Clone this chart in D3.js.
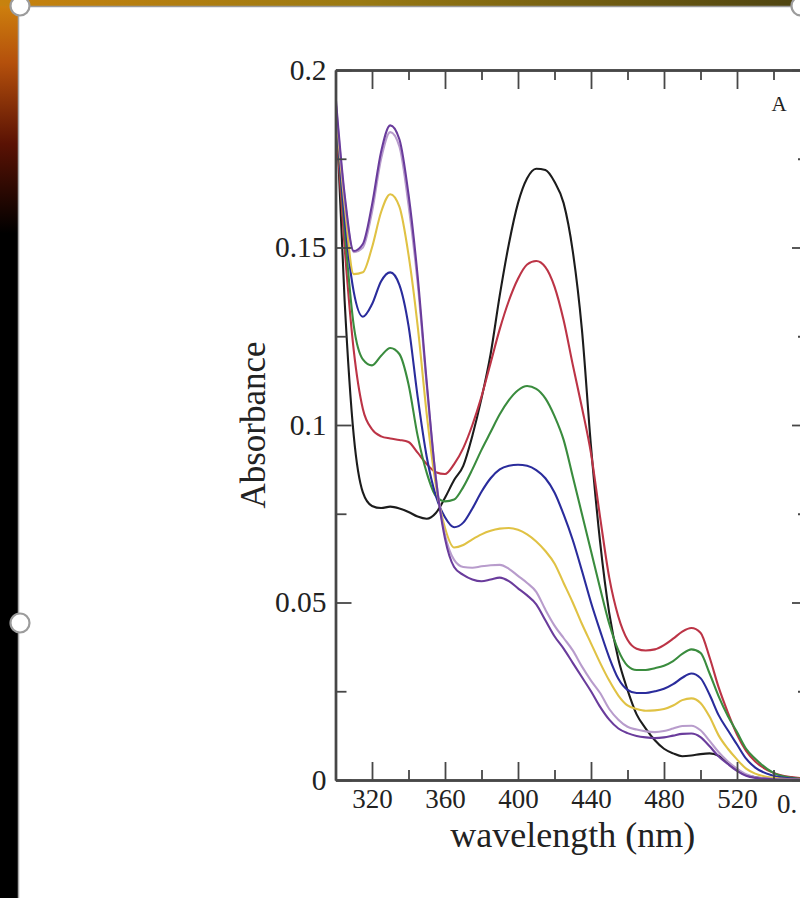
<!DOCTYPE html>
<html>
<head>
<meta charset="utf-8">
<script src="https://cdn.jsdelivr.net/npm/d3@7"></script>
<style>
  html, body { margin: 0; padding: 0; background: #ffffff; overflow: hidden; }
  svg { display: block; }
</style>
</head>
<body>
<svg id="chart" width="800" height="898"></svg>
<script>
// Wavelength grid (nm) shared by all spectra
const wavelengths = [300,305,310,315,320,325,330,335,340,345,350,355,360,365,370,375,380,385,390,395,
  400,405,410,415,420,425,430,435,440,445,450,455,460,465,470,475,480,485,490,495,
  500,505,510,515,520,525,530,540,550,560];

// Absorbance of each spectrum on that grid
const absBlack = [.193,.135,.097,.081,.0772,.0766,.0770,.0765,.0755,.0742,.0736,.0752,.0795,.0845,.0885,.097,.1075,.120,.1365,.151,
  .1625,.1695,.1722,.1718,.1685,.1625,.149,.127,.094,.067,.047,.034,.0254,.0185,.0145,.0112,.0088,.0075,.0067,.0069,
  .0073,.0075,.0068,.0048,.0028,.0014,.0008,.0003,.0001,0];
const absRed = [.187,.150,.121,.1045,.0988,.0968,.0962,.0958,.0952,.0922,.0890,.0867,.0862,.0890,.0935,.100,.108,.1175,.127,.135,
  .1412,.1452,.1462,.1445,.1390,.1295,.1170,.1050,.0920,.0740,.0570,.0460,.0395,.0370,.0365,.0368,.0380,.0398,.0418,.0428,
  .0415,.0345,.0260,.0190,.0128,.0082,.0052,.0020,.0008,.0003];
const absGreen = [.189,.155,.128,.1185,.1168,.1195,.1217,.1200,.1115,.0970,.0865,.0800,.0785,.0790,.0825,.0875,.0930,.0980,.1030,.1070,
  .1098,.1110,.1102,.1075,.1025,.0958,.0855,.0750,.0645,.0540,.0440,.0365,.0322,.0310,.0310,.0315,.0322,.0335,.0355,.0368,
  .0358,.0300,.0235,.0180,.0135,.0088,.0060,.0020,.0006,.0002];
const absBlue = [.190,.158,.1375,.1305,.1340,.1405,.1430,.1395,.1280,.1080,.0910,.0800,.0740,.0712,.0725,.0765,.0812,.0850,.0875,.0885,
  .0888,.0885,.0873,.0850,.0810,.0748,.0676,.0590,.0500,.0420,.0345,.0285,.0254,.0245,.0245,.0250,.0257,.0270,.0288,.0300,
  .0287,.0240,.0182,.0140,.0100,.0060,.0035,.0012,.0004,.0001];
const absYellow = [.190,.162,.1425,.1430,.1500,.1600,.1650,.1615,.1480,.1280,.1030,.0830,.0710,.0655,.0662,.0678,.0692,.0702,.0708,.0710,
  .0705,.0692,.0672,.0645,.0610,.0555,.0500,.0440,.0385,.0330,.0280,.0238,.0210,.0200,.0195,.0196,.0200,.0210,.0225,.0230,
  .0217,.0178,.0125,.0088,.0058,.0032,.0018,.0006,.0002,0];
const absLavender = [.192,.164,.1487,.1500,.1600,.1750,.1825,.1785,.1620,.1400,.1110,.0850,.0690,.0620,.0600,.0598,.0602,.0605,.0606,.0595,
  .0575,.0555,.0530,.0480,.0435,.0400,.0365,.0320,.0280,.0245,.0200,.0170,.0150,.0142,.0137,.0135,.0138,.0145,.0152,.0153,
  .0140,.0110,.0078,.0052,.0032,.0016,.0008,.0003,.0001,0];
const absPurple = [.193,.165,.1490,.1510,.1620,.1770,.1844,.1805,.1650,.1420,.1120,.0850,.0680,.0600,.0578,.0565,.0560,.0565,.0570,.0560,
  .0540,.0520,.0495,.0450,.0405,.0370,.0330,.0290,.0250,.0206,.0170,.0145,.0132,.0124,.0120,.0118,.0120,.0125,.0130,.0131,
  .0121,.0095,.0066,.0045,.0026,.0012,.0006,.0002,.0001,0];

const seriesColors = ["#1c1c1c", "#bc3446", "#3a8c3e", "#2a2c9c", "#e0c244", "#b89ccc", "#6a3c9c"];
const seriesValues = [absBlack, absRed, absGreen, absBlue, absYellow, absLavender, absPurple];

// Axis ticks and labels
const xMajorTicks = [320, 360, 400, 440, 480, 520];
const xMinorTicks = [340, 380, 420, 460, 500, 540];
const yMajorTicks = [0, 0.05, 0.1, 0.15, 0.2];
const yTickLabels = ["0", "0.05", "0.1", "0.15", "0.2"];
const yMinorTicks = [0.025, 0.075, 0.125, 0.175];
const xTitle = "wavelength (nm)";
const yTitle = "Absorbance";
const panelLabel = "A";
const nextPanelLabel = "0.";

const svg = d3.select("#chart");
const W = 800, H = 898;
const serif = "'Liberation Serif', 'Times New Roman', serif";

// ---- slide frame around the figure ----
const defs = svg.append("defs");
const topGrad = defs.append("linearGradient").attr("id", "topStrip").attr("x1", 0).attr("x2", 1).attr("y1", 0).attr("y2", 0);
topGrad.append("stop").attr("offset", "0%").attr("stop-color", "#c8820e");
topGrad.append("stop").attr("offset", "45%").attr("stop-color", "#9a7a12");
topGrad.append("stop").attr("offset", "100%").attr("stop-color", "#4e4410");
const sideGrad = defs.append("linearGradient").attr("id", "sideStrip").attr("x1", 0).attr("x2", 0).attr("y1", 0).attr("y2", 1);
sideGrad.append("stop").attr("offset", "0%").attr("stop-color", "#d0840e");
sideGrad.append("stop").attr("offset", "7%").attr("stop-color", "#b4500c");
sideGrad.append("stop").attr("offset", "16%").attr("stop-color", "#5a1204");
sideGrad.append("stop").attr("offset", "26%").attr("stop-color", "#000000");
sideGrad.append("stop").attr("offset", "100%").attr("stop-color", "#000000");

svg.append("rect").attr("x", 0).attr("y", 0).attr("width", W).attr("height", H).attr("fill", "#ffffff");
svg.append("rect").attr("x", 0).attr("y", 0).attr("width", 18).attr("height", H).attr("fill", "url(#sideStrip)");
svg.append("rect").attr("x", 0).attr("y", 0).attr("width", W).attr("height", 6).attr("fill", "url(#topStrip)");
svg.append("line").attr("x1", 18.5).attr("x2", 18.5).attr("y1", 6).attr("y2", H)
  .attr("stroke", "#a8a8a8").attr("stroke-width", 1.5);
svg.append("line").attr("x1", 18).attr("x2", W).attr("y1", 6.5).attr("y2", 6.5)
  .attr("stroke", "#9a9a9a").attr("stroke-width", 1.5);

// ---- plot ----
const x = d3.scaleLinear().domain([300, 560]).range([335.5, 810]);
const y = d3.scaleLinear().domain([0, 0.2]).range([780, 70]);

const plot = svg.append("g");
const clip = defs.append("clipPath").attr("id", "plotClip");
clip.append("rect").attr("x", x(300)).attr("y", y(0.2)).attr("width", x(560) - x(300)).attr("height", y(0) - y(0.2));

const line = d3.line()
  .x((d, i) => x(wavelengths[i]))
  .y(d => y(d))
  .curve(d3.curveMonotoneX);

plot.append("g").attr("clip-path", "url(#plotClip)")
  .selectAll("path.spectrum")
  .data(seriesValues)
  .join("path")
  .attr("class", "spectrum")
  .attr("d", d => line(d))
  .attr("fill", "none")
  .attr("stroke", (d, i) => seriesColors[i])
  .attr("stroke-width", 2.1)
  .attr("stroke-linejoin", "round");

const axisColor = "#474747";
function styleAxis(g, size) {
  g.selectAll("path.domain").attr("stroke", axisColor).attr("stroke-width", 2.4);
  g.selectAll(".tick line").attr("stroke", axisColor).attr("stroke-width", 1.8);
  g.selectAll(".tick text").attr("fill", "#222").attr("font-family", serif).attr("font-size", size || 27);
}

// bottom axis
plot.append("g").attr("transform", `translate(0,${y(0)})`)
  .call(d3.axisBottom(x).tickValues(xMajorTicks).tickSize(-18).tickSizeOuter(0).tickPadding(9).tickFormat(d3.format("d")))
  .call(g => styleAxis(g, 27))
  .call(g => g.selectAll(".tick text").attr("dy", "0.72em"));
plot.append("g").attr("transform", `translate(0,${y(0)})`)
  .call(d3.axisBottom(x).tickValues(xMinorTicks).tickSize(-10).tickSizeOuter(0).tickFormat(""))
  .call(g => styleAxis(g));

// top axis
plot.append("g").attr("transform", `translate(0,${y(0.2)})`)
  .call(d3.axisTop(x).tickValues(xMajorTicks).tickSize(-19).tickSizeOuter(0).tickFormat(""))
  .call(g => styleAxis(g));
plot.append("g").attr("transform", `translate(0,${y(0.2)})`)
  .call(d3.axisTop(x).tickValues(xMinorTicks).tickSize(-10).tickSizeOuter(0).tickFormat(""))
  .call(g => styleAxis(g));

// left axis
plot.append("g").attr("transform", `translate(${x(300)},0)`)
  .call(d3.axisLeft(y).tickValues(yMajorTicks).tickSize(-16).tickSizeOuter(0).tickPadding(9)
    .tickFormat((d, i) => yTickLabels[i]))
  .call(g => styleAxis(g, 29.5));
plot.append("g").attr("transform", `translate(${x(300)},0)`)
  .call(d3.axisLeft(y).tickValues(yMinorTicks).tickSize(-11).tickSizeOuter(0).tickFormat(""))
  .call(g => styleAxis(g));

// right axis
plot.append("g").attr("transform", `translate(${x(560)},0)`)
  .call(d3.axisRight(y).tickValues(yMajorTicks).tickSize(-18).tickSizeOuter(0).tickFormat(""))
  .call(g => styleAxis(g));
plot.append("g").attr("transform", `translate(${x(560)},0)`)
  .call(d3.axisRight(y).tickValues(yMinorTicks).tickSize(-12).tickSizeOuter(0).tickFormat(""))
  .call(g => styleAxis(g));

// axis titles
svg.append("text")
  .attr("x", (x(300) + x(560)) / 2).attr("y", 847)
  .attr("text-anchor", "middle")
  .attr("font-family", serif).attr("font-size", 36).attr("fill", "#222")
  .text(xTitle);
svg.append("text")
  .attr("transform", `translate(265,${(y(0) + y(0.2)) / 2}) rotate(-90)`)
  .attr("text-anchor", "middle")
  .attr("font-family", serif).attr("font-size", 35).attr("fill", "#222")
  .text(yTitle);

// panel letter
svg.append("text")
  .attr("x", 779).attr("y", 111)
  .attr("text-anchor", "middle")
  .attr("font-family", serif).attr("font-size", 21).attr("fill", "#222")
  .text(panelLabel);

// start of the neighbouring panel's tick label
svg.append("text")
  .attr("x", 777).attr("y", 813)
  .attr("font-family", serif).attr("font-size", 27).attr("fill", "#222")
  .text(nextPanelLabel);

// selection handles of the slide object
const handles = [[20, 6], [20, 623], [801, 6]];
svg.selectAll("circle.handle").data(handles).join("circle")
  .attr("class", "handle")
  .attr("cx", d => d[0]).attr("cy", d => d[1]).attr("r", 9.5)
  .attr("fill", "#ffffff").attr("stroke", "#9c9c9c").attr("stroke-width", 2.2);
</script>
</body>
</html>
